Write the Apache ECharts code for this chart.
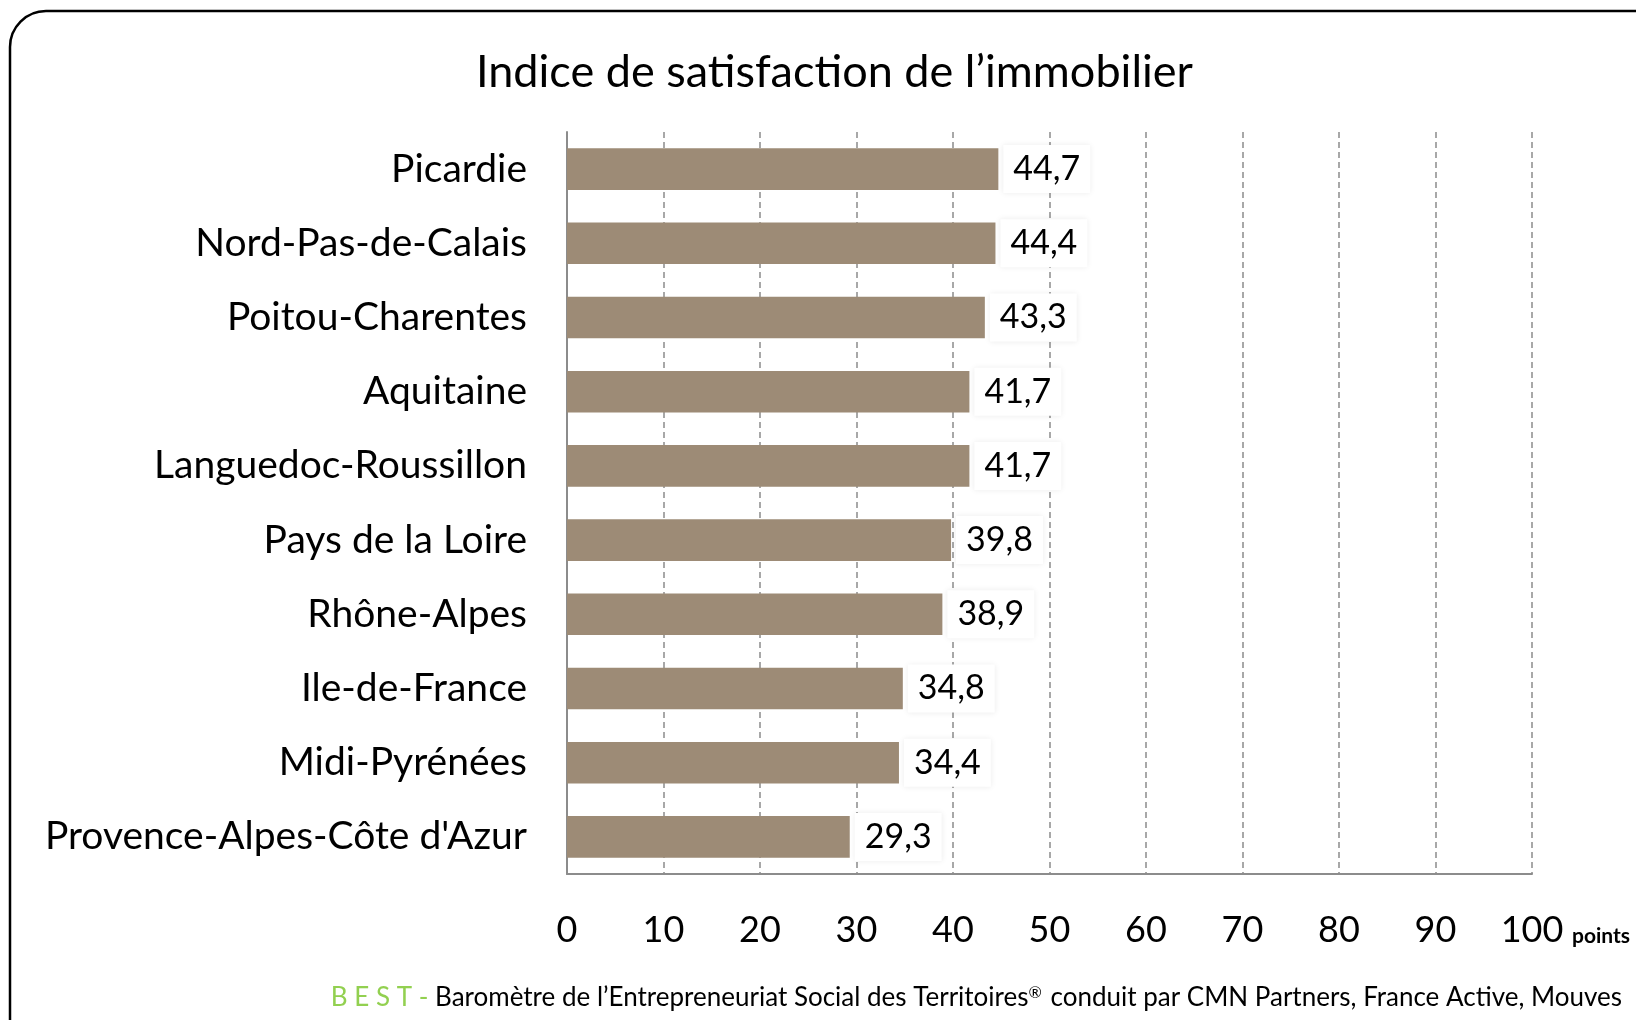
<!DOCTYPE html>
<html>
<head>
    <meta charset="utf-8">
    <title>Indice de satisfaction de l'immobilier</title>
    <script src="https://cdn.jsdelivr.net/npm/echarts@6/dist/echarts.min.js"></script>
    <style>
        html, body { margin: 0; padding: 0; background: #fff; }
    </style>
</head>
<body>
<div id="main" style="width: 1636px;height:1020px;"></div>
<script type="text/javascript">
    // regions, top to bottom
    var regions = ['Picardie', 'Nord-Pas-de-Calais', 'Poitou-Charentes', 'Aquitaine',
        'Languedoc-Roussillon', 'Pays de la Loire', 'Rhône-Alpes', 'Ile-de-France',
        'Midi-Pyrénées', "Provence-Alpes-Côte d'Azur"];
    var scores = [44.7, 44.4, 43.3, 41.7, 41.7, 39.8, 38.9, 34.8, 34.4, 29.3];
    var xTicks = [0, 10, 20, 30, 40, 50, 60, 70, 80, 90, 100];

    var font = 'Lato';
    var myChart = echarts.init(document.getElementById('main'));

    var option = {
        backgroundColor: '#fff',
        animation: false,
        title: {
            text: 'Indice de satisfaction de l\u2019immobilier',
            left: 471,
            top: 45,
            textStyle: {fontFamily: font, fontSize: 45, fontWeight: 'normal', color: '#000'}
        },
        grid: {left: 567, right: 104, top: 132, bottom: 146},
        xAxis: {
            type: 'value',
            min: 0,
            max: 100,
            interval: 10,
            name: 'points',
            nameLocation: 'end',
            nameGap: 40,
            nameTextStyle: {
                fontFamily: font, fontSize: 21, fontWeight: 'bold', color: '#000',
                verticalAlign: 'top', align: 'left', padding: [52, 0, 0, 0]
            },
            axisLine: {show: true, lineStyle: {color: '#8c8c8c', width: 2}},
            axisTick: {show: false},
            axisLabel: {
                margin: 38,
                fontFamily: font, fontSize: 36, color: '#000',
                formatter: function (v) { return xTicks.indexOf(v) >= 0 ? String(v) : ''; }
            },
            splitLine: {show: true, lineStyle: {color: '#8c8c8c', type: [6, 4], width: 1.5}}
        },
        yAxis: {
            type: 'category',
            inverse: true,
            data: regions,
            axisLine: {show: true, lineStyle: {color: '#8c8c8c', width: 2}},
            axisTick: {show: false},
            axisLabel: {margin: 40, fontFamily: font, fontSize: 39, color: '#000'}
        },
        series: [{
            type: 'bar',
            data: scores,
            barCategoryGap: '44%',
            itemStyle: {color: '#9d8b76'},
            label: {
                show: true,
                position: 'right',
                distance: 5,
                fontFamily: font,
                fontSize: 34,
                color: '#000',
                backgroundColor: '#fff',
                padding: [8, 10, 6, 10],
                shadowColor: 'rgba(0,0,0,0.08)',
                shadowBlur: 6,
                formatter: function (p) { return p.value.toFixed(1).replace('.', ','); }
            }
        }],
        graphic: [
            {
                type: 'rect',
                shape: {x: 10, y: 11, width: 1700, height: 1080, r: 36},
                style: {fill: 'none', stroke: '#000', lineWidth: 2.5},
                silent: true
            },
            {
                type: 'text',
                right: 14,
                top: 985,
                style: {
                    text: '{g|B E S T - }Baromètre de l\u2019Entrepreneuriat Social des Territoires{sup|®} conduit par CMN Partners, France Active, Mouves',
                    font: '26px ' + font,
                    fill: '#000',
                    rich: {
                        g: {fill: '#92d050', font: '26px ' + font},
                        sup: {fill: '#000', font: '16px ' + font, verticalAlign: 'top', padding: [0, 2, 8, 0]}
                    }
                }
            }
        ]
    };

    myChart.setOption(option);
</script>
</body>
</html>
